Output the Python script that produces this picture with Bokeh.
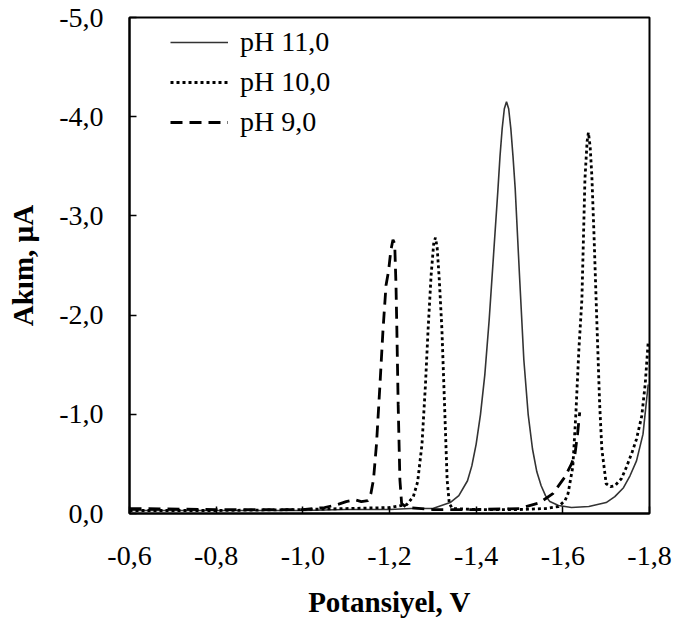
from bokeh.plotting import figure
from bokeh.models import (Range1d, FixedTicker, CustomJSTickFormatter, Legend, LegendItem)
from bokeh.embed import file_html
from bokeh.resources import INLINE

# ---- data ----
x_ticks = [-0.6, -0.8, -1.0, -1.2, -1.4, -1.6, -1.8]
y_ticks = [0.0, -1.0, -2.0, -3.0, -4.0, -5.0]

ph11_x = [-0.60, -0.80, -1.00, -1.10, -1.20, -1.25, -1.30, -1.34, -1.36, -1.38, -1.39,
          -1.40, -1.41, -1.42, -1.43, -1.44, -1.45, -1.455, -1.46, -1.465, -1.47, -1.475,
          -1.48, -1.485, -1.49, -1.50,
          -1.51, -1.52, -1.53, -1.54, -1.55, -1.56, -1.57, -1.59, -1.62, -1.66, -1.70,
          -1.72, -1.74, -1.755, -1.77, -1.785, -1.797]
ph11_y = [-0.03, -0.03, -0.03, -0.04, -0.04, -0.05, -0.05, -0.11, -0.18, -0.33, -0.48,
          -0.70, -1.00, -1.40, -1.95, -2.60, -3.25, -3.60, -3.88, -4.08, -4.15, -4.08,
          -3.88, -3.60, -3.28, -2.40,
          -1.55, -1.00, -0.65, -0.42, -0.28, -0.18, -0.12, -0.08, -0.06, -0.07, -0.11,
          -0.17, -0.26, -0.38, -0.53, -0.80, -1.30]

ph10_x = [-0.60, -0.80, -1.00, -1.10, -1.20, -1.24, -1.255, -1.265, -1.275, -1.283,
          -1.289, -1.296, -1.302, -1.306, -1.310, -1.315, -1.321, -1.327, -1.333, -1.338,
          -1.345, -1.40, -1.50, -1.56, -1.59, -1.605, -1.612, -1.623, -1.630, -1.637,
          -1.644, -1.651, -1.656, -1.659, -1.663, -1.667, -1.672, -1.678, -1.685, -1.690,
          -1.700, -1.710, -1.720, -1.735, -1.747, -1.760, -1.770, -1.782, -1.790, -1.797]
ph10_y = [-0.03, -0.03, -0.04, -0.05, -0.06, -0.09, -0.17, -0.32, -0.70, -1.30,
          -1.85, -2.40, -2.72, -2.78, -2.68, -2.35, -1.85, -1.10, -0.34, -0.10,
          -0.05, -0.04, -0.04, -0.05, -0.07, -0.13, -0.20, -0.47, -1.00, -1.65,
          -2.16, -3.37, -3.75, -3.84, -3.70, -3.40, -2.80, -2.00, -1.10, -0.65,
          -0.30, -0.27, -0.28, -0.35, -0.47, -0.62, -0.75, -0.98, -1.30, -1.73]

ph9_x = [-0.60, -0.80, -1.00, -1.05, -1.08, -1.10, -1.12, -1.135, -1.15, -1.157, -1.163,
         -1.170, -1.178, -1.185, -1.192, -1.198, -1.203, -1.208, -1.212, -1.215, -1.217,
         -1.220, -1.224, -1.228, -1.24, -1.30, -1.40, -1.50, -1.547, -1.577, -1.605,
         -1.620, -1.628, -1.634, -1.639]
ph9_y = [-0.05, -0.04, -0.04, -0.06, -0.09, -0.12, -0.14, -0.12, -0.13, -0.20, -0.34,
         -0.70, -1.30, -1.85, -2.30, -2.45, -2.65, -2.76, -2.72, -2.30, -1.85,
         -1.10, -0.34, -0.10, -0.06, -0.04, -0.04, -0.05, -0.11, -0.20, -0.37,
         -0.50, -0.60, -0.80, -1.02]

labels = ["pH 11,0", "pH 10,0", "pH 9,0"]

FONT = "Liberation Serif"

p = figure(width=675, height=627, output_backend="svg", toolbar_location=None,
           x_range=Range1d(-0.6, -1.8), y_range=Range1d(0.0, -5.0),
           min_border_left=129, min_border_right=26, min_border_top=17, min_border_bottom=114)
p.background_fill_color = "white"
p.border_fill_color = "white"
p.outline_line_color = "black"
p.outline_line_width = 2
p.grid.visible = False

r1 = p.line(ph11_x, ph11_y, line_color="#333333", line_width=1.6)
r2 = p.line(ph10_x, ph10_y, line_color="black", line_width=2.8, line_dash="3 3")
r3 = p.line(ph9_x, ph9_y, line_color="black", line_width=2.8, line_dash="12 7")

fmt = CustomJSTickFormatter(code="return tick.toFixed(1).replace('.', ',');")
for ax, ticks in ((p.xaxis[0], x_ticks), (p.yaxis[0], y_ticks)):
    ax.ticker = FixedTicker(ticks=ticks)
    ax.formatter = fmt
    ax.major_tick_in = 7
    ax.major_tick_out = 0
    ax.minor_tick_line_color = None
    ax.axis_line_width = 2
    ax.major_tick_line_width = 1.5
    ax.major_label_text_font = FONT
    ax.major_label_text_font_size = "28px"
    ax.major_label_text_color = "black"
    ax.axis_label_text_font = FONT
    ax.axis_label_text_font_size = "29px"
    ax.axis_label_text_font_style = "bold"
    ax.axis_label_text_color = "black"

p.xaxis.axis_label = "Potansiyel, V"
p.yaxis.axis_label = "Akım, µA"
p.xaxis.major_label_standoff = 33
p.xaxis.axis_label_standoff = 18
p.yaxis.major_label_standoff = 26
p.yaxis.axis_label_standoff = 17

legend = Legend(items=[LegendItem(label=labels[0], renderers=[r1]),
                       LegendItem(label=labels[1], renderers=[r2]),
                       LegendItem(label=labels[2], renderers=[r3])],
                location=(41, 375))
legend.glyph_width = 58
legend.glyph_height = 30
legend.label_height = 30
legend.spacing = 8
legend.padding = 0
legend.margin = 0
legend.label_standoff = 12
legend.border_line_color = None
legend.background_fill_alpha = 0
legend.label_text_font = FONT
legend.label_text_font_size = "28px"
legend.label_text_color = "black"
p.add_layout(legend)

open("out.html", "w").write(file_html(p, INLINE))
